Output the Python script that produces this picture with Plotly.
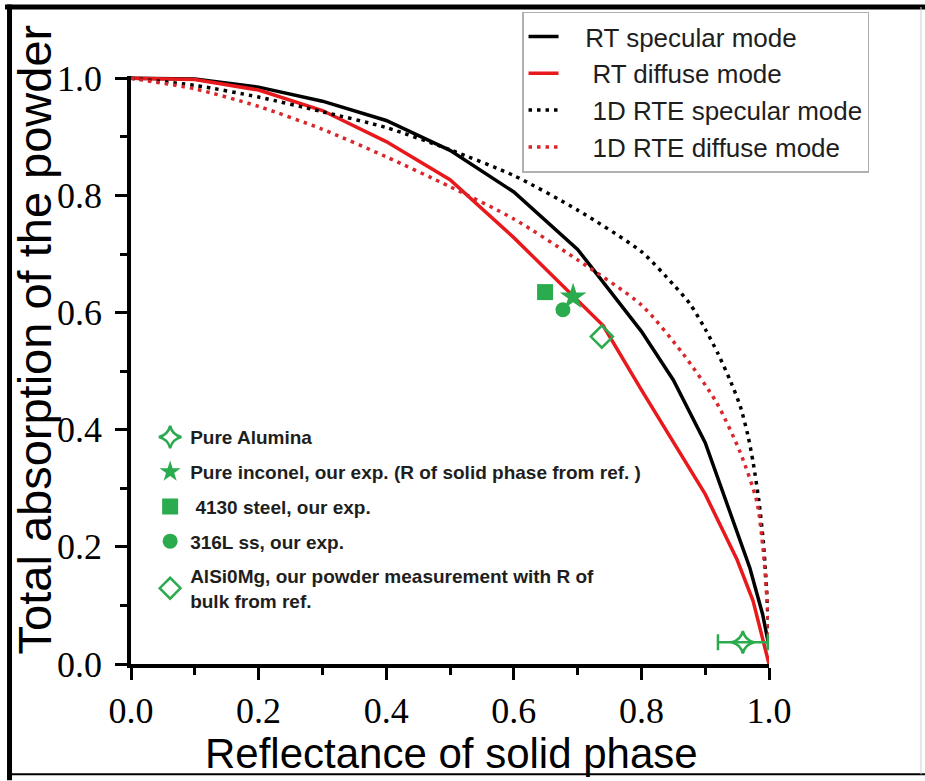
import plotly.graph_objects as go

# Reflectance of the solid phase (x) versus total absorption of the powder (y)
rt_spec_r = [0.0, 0.1, 0.2, 0.3, 0.4, 0.5, 0.6, 0.7, 0.8, 0.85, 0.9, 0.95, 0.97, 0.99, 1.0]
rt_spec_a = [1.0, 0.999, 0.985, 0.961, 0.928, 0.877, 0.806, 0.708, 0.568, 0.485, 0.378, 0.228, 0.164, 0.085, 0.03]

rt_diff_r = [0.0, 0.1, 0.2, 0.3, 0.4, 0.5, 0.6, 0.7, 0.74, 0.8, 0.9, 0.95, 0.975, 1.0]
rt_diff_a = [1.0, 0.998, 0.98, 0.945, 0.892, 0.827, 0.728, 0.62, 0.578, 0.468, 0.29, 0.178, 0.108, 0.0]

rte_spec_r = [0.0, 0.1, 0.2, 0.3, 0.4, 0.5, 0.6, 0.7, 0.8, 0.85, 0.876, 0.9, 0.92, 0.94,
              0.955, 0.967, 0.975, 0.984, 0.991, 0.995, 0.998, 1.0]
rte_spec_a = [1.0, 0.988, 0.968, 0.943, 0.916, 0.878, 0.834, 0.775, 0.704, 0.648, 0.615, 0.572, 0.53, 0.482,
              0.44, 0.39, 0.345, 0.28, 0.21, 0.15, 0.09, 0.04]

rte_diff_r = [0.0, 0.1, 0.2, 0.3, 0.4, 0.5, 0.6, 0.7, 0.8, 0.865, 0.918, 0.955, 0.981, 0.991, 0.997, 1.0]
rte_diff_a = [1.0, 0.982, 0.952, 0.913, 0.866, 0.815, 0.76, 0.69, 0.613, 0.53, 0.446, 0.361, 0.277, 0.193, 0.108, 0.04]

# Measured samples
alumina_r, alumina_a, alumina_err = [0.959], [0.037], [0.039]
inconel_r, inconel_a = [0.693], [0.627]
steel4130_r, steel4130_a = [0.649], [0.635]
ss316_r, ss316_a = [0.677], [0.605]
alsi_r, alsi_a = [0.738], [0.559]

x_ticks = [0.0, 0.2, 0.4, 0.6, 0.8, 1.0]
y_ticks = [0.0, 0.2, 0.4, 0.6, 0.8, 1.0]

GREEN = "#2aab4e"
SANS = "Liberation Sans, Arial, sans-serif"
SERIF = "Liberation Serif, Times New Roman, serif"
NB = "\u00a0"

fig = go.Figure()

# Model curves
fig.add_trace(go.Scatter(x=rt_spec_r, y=rt_spec_a, mode="lines", name=NB * 3 + "RT specular mode",
                         line=dict(color="black", width=3.5), legend="legend"))
fig.add_trace(go.Scatter(x=rt_diff_r, y=rt_diff_a, mode="lines", name=NB * 4 + "RT diffuse mode",
                         line=dict(color="#e8191c", width=3.5), legend="legend"))
fig.add_trace(go.Scatter(x=rte_spec_r, y=rte_spec_a, mode="lines", name=NB * 4 + "1D RTE specular mode",
                         line=dict(color="black", width=3.5, dash="3.5px,5px", shape="spline", smoothing=0.7),
                         legend="legend"))
fig.add_trace(go.Scatter(x=rte_diff_r, y=rte_diff_a, mode="lines", name=NB * 4 + "1D RTE diffuse mode",
                         line=dict(color="#d9262b", width=3.5, dash="3.5px,5px", shape="spline", smoothing=0.7),
                         legend="legend"))

# Experimental points
fig.add_trace(go.Scatter(x=alumina_r, y=alumina_a, mode="markers", name="Pure Alumina",
                         marker=dict(symbol="star-diamond-open", size=16, color=GREEN, line=dict(width=2.5)),
                         error_x=dict(type="data", array=alumina_err, color=GREEN, thickness=2.5, width=8),
                         legend="legend2", legendgroup="g1"))
fig.add_trace(go.Scatter(x=inconel_r, y=inconel_a, mode="markers",
                         name="Pure inconel, our exp. (R of solid phase from ref. )",
                         marker=dict(symbol="star", size=20, color=GREEN),
                         legend="legend2", legendgroup="g2"))
fig.add_trace(go.Scatter(x=steel4130_r, y=steel4130_a, mode="markers", name=NB + "4130 steel, our exp.",
                         marker=dict(symbol="square", size=16, color=GREEN),
                         legend="legend2", legendgroup="g3"))
fig.add_trace(go.Scatter(x=ss316_r, y=ss316_a, mode="markers", name="316L ss, our exp.",
                         marker=dict(symbol="circle", size=15, color=GREEN),
                         legend="legend2", legendgroup="g4"))
fig.add_trace(go.Scatter(x=alsi_r, y=alsi_a, mode="markers",
                         name="AlSi0Mg, our powder measurement with R of<br>bulk from ref.",
                         marker=dict(symbol="diamond-open", size=17, color=GREEN, line=dict(width=2.5)),
                         legend="legend2", legendgroup="g5"))

axis_common = dict(
    showline=True, linecolor="black", linewidth=3.5, mirror=False,
    ticks="outside", ticklen=12, tickwidth=3, tickcolor="black",
    minor=dict(ticks="outside", ticklen=7, tickwidth=3, tickcolor="black", dtick=0.1),
    showgrid=False, zeroline=False, tickformat=".1f",
    tickfont=dict(family=SERIF, size=36, color="black"),
)

fig.update_xaxes(range=[0, 1.0], tickvals=x_ticks, **axis_common)
fig.update_yaxes(range=[0, 1.004], tickvals=y_ticks, ticklabelstandoff=6, **axis_common)

fig.update_layout(
    width=925, height=781,
    margin=dict(l=131, r=156, t=72, b=117),
    paper_bgcolor="white", plot_bgcolor="white",
    showlegend=True,
    legend=dict(
        x=0.6129, y=1.1095, xanchor="left", yanchor="top",
        bgcolor="white", bordercolor="#b0b0b0", borderwidth=1.5,
        font=dict(family=SANS, size=26, color="#1e1e1e"),
        tracegroupgap=0,
    ),
    legend2=dict(
        x=0.03, y=0.418, xanchor="left", yanchor="top",
        bgcolor="rgba(0,0,0,0)", borderwidth=0,
        font=dict(family=SANS, size=19, color="#1e1e1e", weight="bold"),
        tracegroupgap=7, traceorder="grouped",
    ),
    annotations=[
        dict(text="Total absorption of the powder", textangle=-90, xref="paper", yref="paper",
             x=-0.152, y=0.552, showarrow=False, xanchor="center", yanchor="middle",
             font=dict(family=SANS, size=47, color="black")),
        dict(text="Reflectance of solid phase", xref="paper", yref="paper",
             x=0.502, y=-0.152, showarrow=False, xanchor="center", yanchor="middle",
             font=dict(family=SANS, size=42, color="black")),
    ],
    shapes=[
        # outer frame
        dict(type="line", xref="paper", yref="paper", x0=-0.1975, x1=1.2445, y0=1.1174, y1=1.1174,
             line=dict(color="black", width=5)),
        dict(type="line", xref="paper", yref="paper", x0=-0.1904, x1=-0.1904, y0=1.1216, y1=-0.1976,
             line=dict(color="black", width=5)),
        dict(type="line", xref="paper", yref="paper", x0=-0.1904, x1=1.2445, y0=-0.1875, y1=-0.1875,
             line=dict(color="black", width=2)),
        dict(type="line", xref="paper", yref="paper", x0=1.2382, x1=1.2382, y0=1.1174, y1=-0.1875,
             line=dict(color="#cfcfcf", width=1)),
    ],
)

fig.write_html("out.html")
